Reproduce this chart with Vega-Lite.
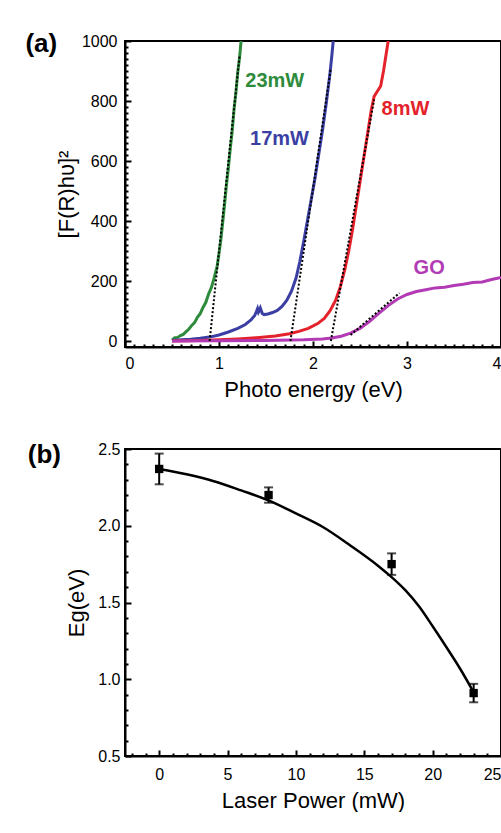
{
  "$schema": "https://vega.github.io/schema/vega-lite/v6.json",
  "background": "white",
  "padding": {"left": 24, "top": 30, "right": 0, "bottom": 0},
  "spacing": 39,
  "config": {
    "font": "Liberation Sans",
    "view": {"stroke": "black", "strokeWidth": 2},
    "axis": {
      "grid": false,
      "domainColor": "black",
      "domainWidth": 2,
      "tickColor": "black",
      "labelColor": "black",
      "titleColor": "black",
      "labelFont": "Liberation Sans",
      "titleFont": "Liberation Sans",
      "labelFontSize": 16,
      "titleFontSize": 22,
      "titleFontWeight": "normal"
    },
    "title": {"font": "Liberation Sans", "fontSize": 26, "fontWeight": "bold", "color": "black"}
  },
  "datasets": {
    "spec": [
      {"series": "23mW", "E": 0.50, "V": 3}, {"series": "23mW", "E": 0.53, "V": 11}, {"series": "23mW", "E": 0.56, "V": 12},
      {"series": "23mW", "E": 0.59, "V": 18}, {"series": "23mW", "E": 0.62, "V": 22}, {"series": "23mW", "E": 0.65, "V": 31},
      {"series": "23mW", "E": 0.68, "V": 40}, {"series": "23mW", "E": 0.71, "V": 52}, {"series": "23mW", "E": 0.74, "V": 61},
      {"series": "23mW", "E": 0.77, "V": 79}, {"series": "23mW", "E": 0.80, "V": 91}, {"series": "23mW", "E": 0.83, "V": 112},
      {"series": "23mW", "E": 0.86, "V": 129}, {"series": "23mW", "E": 0.89, "V": 157}, {"series": "23mW", "E": 0.92, "V": 179},
      {"series": "23mW", "E": 0.95, "V": 212}, {"series": "23mW", "E": 0.98, "V": 249}, {"series": "23mW", "E": 1.00, "V": 292},
      {"series": "23mW", "E": 1.02, "V": 338}, {"series": "23mW", "E": 1.04, "V": 397}, {"series": "23mW", "E": 1.06, "V": 458},
      {"series": "23mW", "E": 1.08, "V": 522}, {"series": "23mW", "E": 1.10, "V": 578}, {"series": "23mW", "E": 1.12, "V": 642},
      {"series": "23mW", "E": 1.14, "V": 698}, {"series": "23mW", "E": 1.16, "V": 772}, {"series": "23mW", "E": 1.18, "V": 828},
      {"series": "23mW", "E": 1.20, "V": 897}, {"series": "23mW", "E": 1.22, "V": 948}, {"series": "23mW", "E": 1.235, "V": 1000},
      {"series": "17mW", "E": 0.50, "V": 2}, {"series": "17mW", "E": 0.60, "V": 4}, {"series": "17mW", "E": 0.70, "V": 6},
      {"series": "17mW", "E": 0.80, "V": 9}, {"series": "17mW", "E": 0.90, "V": 13}, {"series": "17mW", "E": 1.00, "V": 20},
      {"series": "17mW", "E": 1.10, "V": 30}, {"series": "17mW", "E": 1.20, "V": 42}, {"series": "17mW", "E": 1.28, "V": 55},
      {"series": "17mW", "E": 1.34, "V": 70}, {"series": "17mW", "E": 1.38, "V": 85}, {"series": "17mW", "E": 1.40, "V": 100},
      {"series": "17mW", "E": 1.41, "V": 108}, {"series": "17mW", "E": 1.42, "V": 96}, {"series": "17mW", "E": 1.43, "V": 102},
      {"series": "17mW", "E": 1.44, "V": 110}, {"series": "17mW", "E": 1.46, "V": 92}, {"series": "17mW", "E": 1.48, "V": 88},
      {"series": "17mW", "E": 1.52, "V": 90}, {"series": "17mW", "E": 1.57, "V": 95}, {"series": "17mW", "E": 1.62, "V": 102},
      {"series": "17mW", "E": 1.67, "V": 115}, {"series": "17mW", "E": 1.72, "V": 135}, {"series": "17mW", "E": 1.77, "V": 165},
      {"series": "17mW", "E": 1.82, "V": 210}, {"series": "17mW", "E": 1.86, "V": 265}, {"series": "17mW", "E": 1.90, "V": 330},
      {"series": "17mW", "E": 1.94, "V": 400}, {"series": "17mW", "E": 1.98, "V": 470}, {"series": "17mW", "E": 2.02, "V": 540},
      {"series": "17mW", "E": 2.06, "V": 620}, {"series": "17mW", "E": 2.10, "V": 700}, {"series": "17mW", "E": 2.14, "V": 790},
      {"series": "17mW", "E": 2.18, "V": 890}, {"series": "17mW", "E": 2.20, "V": 950}, {"series": "17mW", "E": 2.215, "V": 1000},
      {"series": "8mW", "E": 0.50, "V": 0}, {"series": "8mW", "E": 0.80, "V": 2}, {"series": "8mW", "E": 1.00, "V": 4},
      {"series": "8mW", "E": 1.20, "V": 7}, {"series": "8mW", "E": 1.40, "V": 11}, {"series": "8mW", "E": 1.60, "V": 17},
      {"series": "8mW", "E": 1.75, "V": 24}, {"series": "8mW", "E": 1.85, "V": 32}, {"series": "8mW", "E": 1.95, "V": 42},
      {"series": "8mW", "E": 2.05, "V": 58}, {"series": "8mW", "E": 2.12, "V": 75}, {"series": "8mW", "E": 2.18, "V": 100},
      {"series": "8mW", "E": 2.24, "V": 135}, {"series": "8mW", "E": 2.29, "V": 180}, {"series": "8mW", "E": 2.34, "V": 240},
      {"series": "8mW", "E": 2.38, "V": 300}, {"series": "8mW", "E": 2.42, "V": 370}, {"series": "8mW", "E": 2.46, "V": 450},
      {"series": "8mW", "E": 2.50, "V": 530}, {"series": "8mW", "E": 2.54, "V": 610}, {"series": "8mW", "E": 2.58, "V": 690},
      {"series": "8mW", "E": 2.62, "V": 770}, {"series": "8mW", "E": 2.65, "V": 815}, {"series": "8mW", "E": 2.68, "V": 830},
      {"series": "8mW", "E": 2.72, "V": 850}, {"series": "8mW", "E": 2.75, "V": 900}, {"series": "8mW", "E": 2.78, "V": 960},
      {"series": "8mW", "E": 2.80, "V": 1000},
      {"series": "GO", "E": 0.50, "V": 0}, {"series": "GO", "E": 1.00, "V": 1}, {"series": "GO", "E": 1.50, "V": 2},
      {"series": "GO", "E": 1.90, "V": 4}, {"series": "GO", "E": 2.10, "V": 7}, {"series": "GO", "E": 2.20, "V": 10},
      {"series": "GO", "E": 2.30, "V": 16}, {"series": "GO", "E": 2.40, "V": 26}, {"series": "GO", "E": 2.50, "V": 42},
      {"series": "GO", "E": 2.60, "V": 65}, {"series": "GO", "E": 2.70, "V": 92}, {"series": "GO", "E": 2.80, "V": 118},
      {"series": "GO", "E": 2.90, "V": 140}, {"series": "GO", "E": 3.00, "V": 155}, {"series": "GO", "E": 3.10, "V": 165},
      {"series": "GO", "E": 3.20, "V": 171}, {"series": "GO", "E": 3.30, "V": 177}, {"series": "GO", "E": 3.40, "V": 179},
      {"series": "GO", "E": 3.50, "V": 185}, {"series": "GO", "E": 3.60, "V": 189}, {"series": "GO", "E": 3.70, "V": 195},
      {"series": "GO", "E": 3.80, "V": 197}, {"series": "GO", "E": 3.90, "V": 205}, {"series": "GO", "E": 4.00, "V": 212}
    ],
    "tangent": [
      {"series": "23mW", "E": 0.90, "V": 0}, {"series": "23mW", "E": 1.22, "V": 955},
      {"series": "17mW", "E": 1.76, "V": 0}, {"series": "17mW", "E": 2.19, "V": 910},
      {"series": "8mW", "E": 2.19, "V": 0}, {"series": "8mW", "E": 2.65, "V": 805},
      {"series": "GO", "E": 2.40, "V": 20}, {"series": "GO", "E": 2.92, "V": 160}
    ],
    "labels": [
      {"series": "23mW", "E": 1.28, "V": 867},
      {"series": "17mW", "E": 1.33, "V": 673},
      {"series": "8mW", "E": 2.73, "V": 773},
      {"series": "GO", "E": 3.07, "V": 243}
    ],
    "fit": [
      {"P": 0, "Eg": 2.37}, {"P": 2, "Eg": 2.335}, {"P": 4, "Eg": 2.29}, {"P": 6, "Eg": 2.23},
      {"P": 8, "Eg": 2.165}, {"P": 10, "Eg": 2.08}, {"P": 12, "Eg": 1.99}, {"P": 14, "Eg": 1.87},
      {"P": 16, "Eg": 1.74}, {"P": 17, "Eg": 1.665}, {"P": 18, "Eg": 1.58}, {"P": 19, "Eg": 1.475},
      {"P": 20, "Eg": 1.345}, {"P": 21, "Eg": 1.21}, {"P": 22, "Eg": 1.07}, {"P": 23, "Eg": 0.915}
    ],
    "eg": [
      {"P": 0, "Eg": 2.37, "lo": 2.27, "hi": 2.47},
      {"P": 8, "Eg": 2.20, "lo": 2.15, "hi": 2.25},
      {"P": 17, "Eg": 1.75, "lo": 1.68, "hi": 1.82},
      {"P": 23, "Eg": 0.91, "lo": 0.85, "hi": 0.97}
    ]
  },
  "vconcat": [
    {
      "width": 376,
      "height": 306,
      "title": {"text": "(a)", "anchor": "start", "frame": "bounds", "offset": 0, "dx": -30, "dy": 24},
      "layer": [
        {
          "data": {"name": "spec"},
          "mark": {"type": "point", "opacity": 0, "size": 1},
          "encoding": {
            "x": {"field": "E", "type": "quantitative", "scale": {"domain": [0, 4], "nice": false, "zero": false},
              "axis": {"orient": "bottom", "values": [0.1,0.2,0.3,0.4,0.5,0.6,0.7,0.8,0.9,1.1,1.2,1.3,1.4,1.5,1.6,1.7,1.8,1.9,2.1,2.2,2.3,2.4,2.5,2.6,2.7,2.8,2.9,3.1,3.2,3.3,3.4,3.5,3.6,3.7,3.8,3.9],
                "labels": false, "domain": false, "tickSize": -3, "tickWidth": 2, "title": null}},
            "y": {"field": "V", "type": "quantitative", "scale": {"domain": [-20, 1000], "nice": false, "zero": false},
              "axis": {"orient": "left", "values": [20,40,60,80,100,120,140,160,180,220,240,260,280,300,320,340,360,380,420,440,460,480,500,520,540,560,580,620,640,660,680,700,720,740,760,780,820,840,860,880,900,920,940,960,980],
                "labels": false, "domain": false, "tickSize": -3, "tickWidth": 2, "title": null}}
          }
        },
        {
          "data": {"name": "spec"},
          "mark": {"type": "line", "strokeWidth": 3, "clip": true},
          "encoding": {
            "x": {"field": "E", "type": "quantitative", "scale": {"domain": [0, 4], "nice": false, "zero": false},
              "axis": {"orient": "bottom", "values": [0, 1, 2, 3, 4], "format": "d", "tickSize": -6, "tickWidth": 2, "labelPadding": 14, "title": "Photo energy (eV)", "titlePadding": 8}},
            "y": {"field": "V", "type": "quantitative", "scale": {"domain": [-20, 1000], "nice": false, "zero": false},
              "axis": {"orient": "left", "values": [0, 200, 400, 600, 800, 1000], "format": "d", "tickSize": -6, "tickWidth": 2, "labelPadding": 14, "title": "[F(R)hυ]²", "titlePadding": 3}},
            "color": {"field": "series", "type": "nominal", "legend": null,
              "scale": {"domain": ["23mW", "17mW", "8mW", "GO"], "range": ["#2e8b3c", "#3b3fa3", "#e3222c", "#b23ab5"]}},
            "order": {"field": "E", "type": "quantitative"}
          }
        },
        {
          "data": {"name": "tangent"},
          "mark": {"type": "line", "color": "black", "strokeWidth": 2, "strokeDash": [2, 2]},
          "encoding": {
            "x": {"field": "E", "type": "quantitative", "axis": null},
            "y": {"field": "V", "type": "quantitative", "axis": null},
            "detail": {"field": "series", "type": "nominal"}
          }
        },
        {
          "data": {"name": "labels"},
          "mark": {"type": "text", "align": "left", "baseline": "middle", "fontSize": 20, "fontWeight": "bold"},
          "encoding": {
            "x": {"field": "E", "type": "quantitative", "axis": null},
            "y": {"field": "V", "type": "quantitative", "axis": null},
            "text": {"field": "series", "type": "nominal"},
            "color": {"field": "series", "type": "nominal", "legend": null}
          }
        }
      ],
      "resolve": {"axis": {"x": "independent", "y": "independent"}}
    },
    {
      "width": 376,
      "height": 307,
      "title": {"text": "(b)", "anchor": "start", "frame": "bounds", "offset": 0, "dx": -38, "dy": 27},
      "layer": [
        {
          "data": {"name": "fit"},
          "mark": {"type": "line", "color": "black", "strokeWidth": 2.5, "interpolate": "monotone"},
          "encoding": {
            "x": {"field": "P", "type": "quantitative", "scale": {"domain": [-2.5, 25], "nice": false, "zero": false},
              "axis": {"orient": "bottom", "values": [-2,-1,1,2,3,4,6,7,8,9,11,12,13,14,16,17,18,19,21,22,23,24],
                "labels": false, "domain": false, "tickSize": -3, "tickWidth": 2, "title": null}},
            "y": {"field": "Eg", "type": "quantitative", "scale": {"domain": [0.5, 2.5], "nice": false, "zero": false},
              "axis": {"orient": "left", "values": [0.6,0.7,0.8,0.9,1.1,1.2,1.3,1.4,1.6,1.7,1.8,1.9,2.1,2.2,2.3,2.4],
                "labels": false, "domain": false, "tickSize": -3, "tickWidth": 2, "title": null}}
          }
        },
        {
          "data": {"name": "eg"},
          "mark": {"type": "square", "color": "black", "filled": true, "opacity": 1, "size": 70},
          "encoding": {
            "x": {"field": "P", "type": "quantitative", "scale": {"domain": [-2.5, 25], "nice": false, "zero": false},
              "axis": {"orient": "bottom", "values": [0, 5, 10, 15, 20, 25], "tickSize": -6, "tickWidth": 2, "labelPadding": 16, "title": "Laser Power (mW)", "titlePadding": 8}},
            "y": {"field": "Eg", "type": "quantitative", "scale": {"domain": [0.5, 2.5], "nice": false, "zero": false},
              "axis": {"orient": "left", "values": [0.5, 1.0, 1.5, 2.0, 2.5], "format": ".1f", "tickSize": -6, "tickWidth": 2, "labelPadding": 11, "title": "Eg(eV)", "titlePadding": 9}}
          }
        },
        {
          "data": {"name": "eg"},
          "mark": {"type": "rule", "color": "black", "strokeWidth": 2},
          "encoding": {
            "x": {"field": "P", "type": "quantitative", "axis": null},
            "y": {"field": "lo", "type": "quantitative", "axis": null},
            "y2": {"field": "hi"}
          }
        },
        {
          "data": {"name": "eg"},
          "mark": {"type": "tick", "color": "black", "orient": "horizontal", "size": 9, "thickness": 2},
          "encoding": {
            "x": {"field": "P", "type": "quantitative", "axis": null},
            "y": {"field": "lo", "type": "quantitative", "axis": null}
          }
        },
        {
          "data": {"name": "eg"},
          "mark": {"type": "tick", "color": "black", "orient": "horizontal", "size": 9, "thickness": 2},
          "encoding": {
            "x": {"field": "P", "type": "quantitative", "axis": null},
            "y": {"field": "hi", "type": "quantitative", "axis": null}
          }
        }
      ],
      "resolve": {"axis": {"x": "independent", "y": "independent"}}
    }
  ]
}
